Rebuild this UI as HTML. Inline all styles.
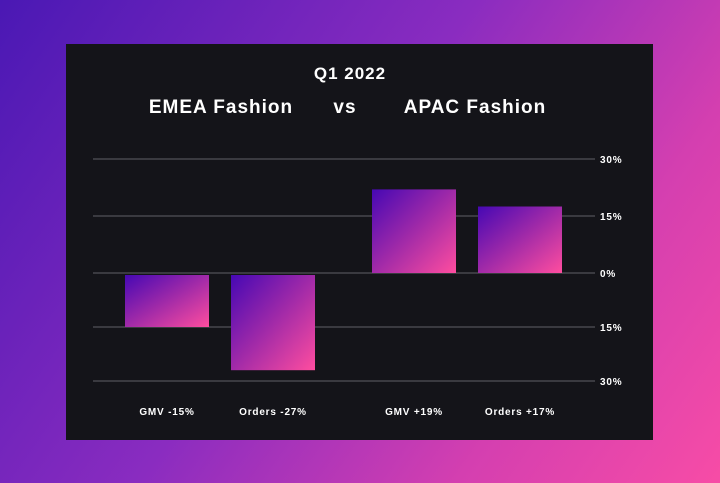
<!DOCTYPE html>
<html><head><meta charset="utf-8"><style>
body{margin:0;width:720px;height:483px;overflow:hidden;background:linear-gradient(125deg,#4a18b4 0%,#8a2cc0 45%,#d43fb0 75%,#f74ca6 100%);font-family:"Liberation Sans",sans-serif;}
#panel{position:absolute;left:66px;top:44px;width:587px;height:396px;background:#141419;}
</style></head><body>
<div id="panel"></div>
<svg id="chart" width="720" height="483" style="position:absolute;left:0;top:0">
<defs><linearGradient id="bg" x1="0" y1="0" x2="1" y2="1"><stop offset="0" stop-color="#4608b4"/><stop offset="0.5" stop-color="#a12aa8"/><stop offset="1" stop-color="#ff4d9f"/></linearGradient></defs>
<text x="350" y="79" text-anchor="middle" fill="#fff" font-size="17" font-weight="bold" letter-spacing="1">Q1 2022</text>
<text x="221" y="113" text-anchor="middle" fill="#fff" font-size="19" font-weight="bold" letter-spacing="1">EMEA Fashion</text>
<text x="345" y="113" text-anchor="middle" fill="#fff" font-size="19" font-weight="bold" letter-spacing="1">vs</text>
<text x="475" y="113" text-anchor="middle" fill="#fff" font-size="19" font-weight="bold" letter-spacing="1">APAC Fashion</text>
<g id="grid"></g><g id="bars"></g><g id="labels"></g>
</svg>
<script>
const categories=["GMV -15%","Orders -27%","GMV +19%","Orders +17%"];
const values=[-15,-27,22,17.5];
const ticks=[30,15,0,-15,-30];
const tickLabels=["30%","15%","0%","15%","30%"];
const barX=[125,231,372,478];
function y(v){return v>=0?273-v*3.8:273-v*3.6;}
const ns="http://www.w3.org/2000/svg";
const grid=document.getElementById('grid'),bars=document.getElementById('bars'),labels=document.getElementById('labels');
ticks.forEach((t,i)=>{
 const l=document.createElementNS(ns,'line');
 l.setAttribute('x1',93);l.setAttribute('x2',595);l.setAttribute('y1',y(t));l.setAttribute('y2',y(t));
 l.setAttribute('stroke','#3a3a40');l.setAttribute('stroke-width',2);
 
 
 grid.appendChild(l);
 const tx=document.createElementNS(ns,'text');
 tx.setAttribute('x',600);tx.setAttribute('y',y(t)+4);tx.setAttribute('fill','#fff');tx.setAttribute('font-size',10);tx.setAttribute('font-weight','bold');tx.setAttribute('letter-spacing','0.8');
 tx.textContent=tickLabels[i];
 
 
 grid.appendChild(tx);
});
values.forEach((v,i)=>{
 const r=document.createElementNS(ns,'rect');
 const y0=v>=0?y(v):275, y1=v>=0?273:y(v);
 r.setAttribute('x',barX[i]);r.setAttribute('width',84);r.setAttribute('y',y0);r.setAttribute('height',y1-y0);r.setAttribute('fill','url(#bg)');
 
 
 bars.appendChild(r);
 const tx=document.createElementNS(ns,'text');
 tx.setAttribute('x',barX[i]+42);tx.setAttribute('y',415);tx.setAttribute('text-anchor','middle');tx.setAttribute('fill','#fff');tx.setAttribute('font-size',10);tx.setAttribute('font-weight','bold');tx.setAttribute('letter-spacing','0.8');
 tx.textContent=categories[i];
 
 
 labels.appendChild(tx);
});
</script>
</body></html>
